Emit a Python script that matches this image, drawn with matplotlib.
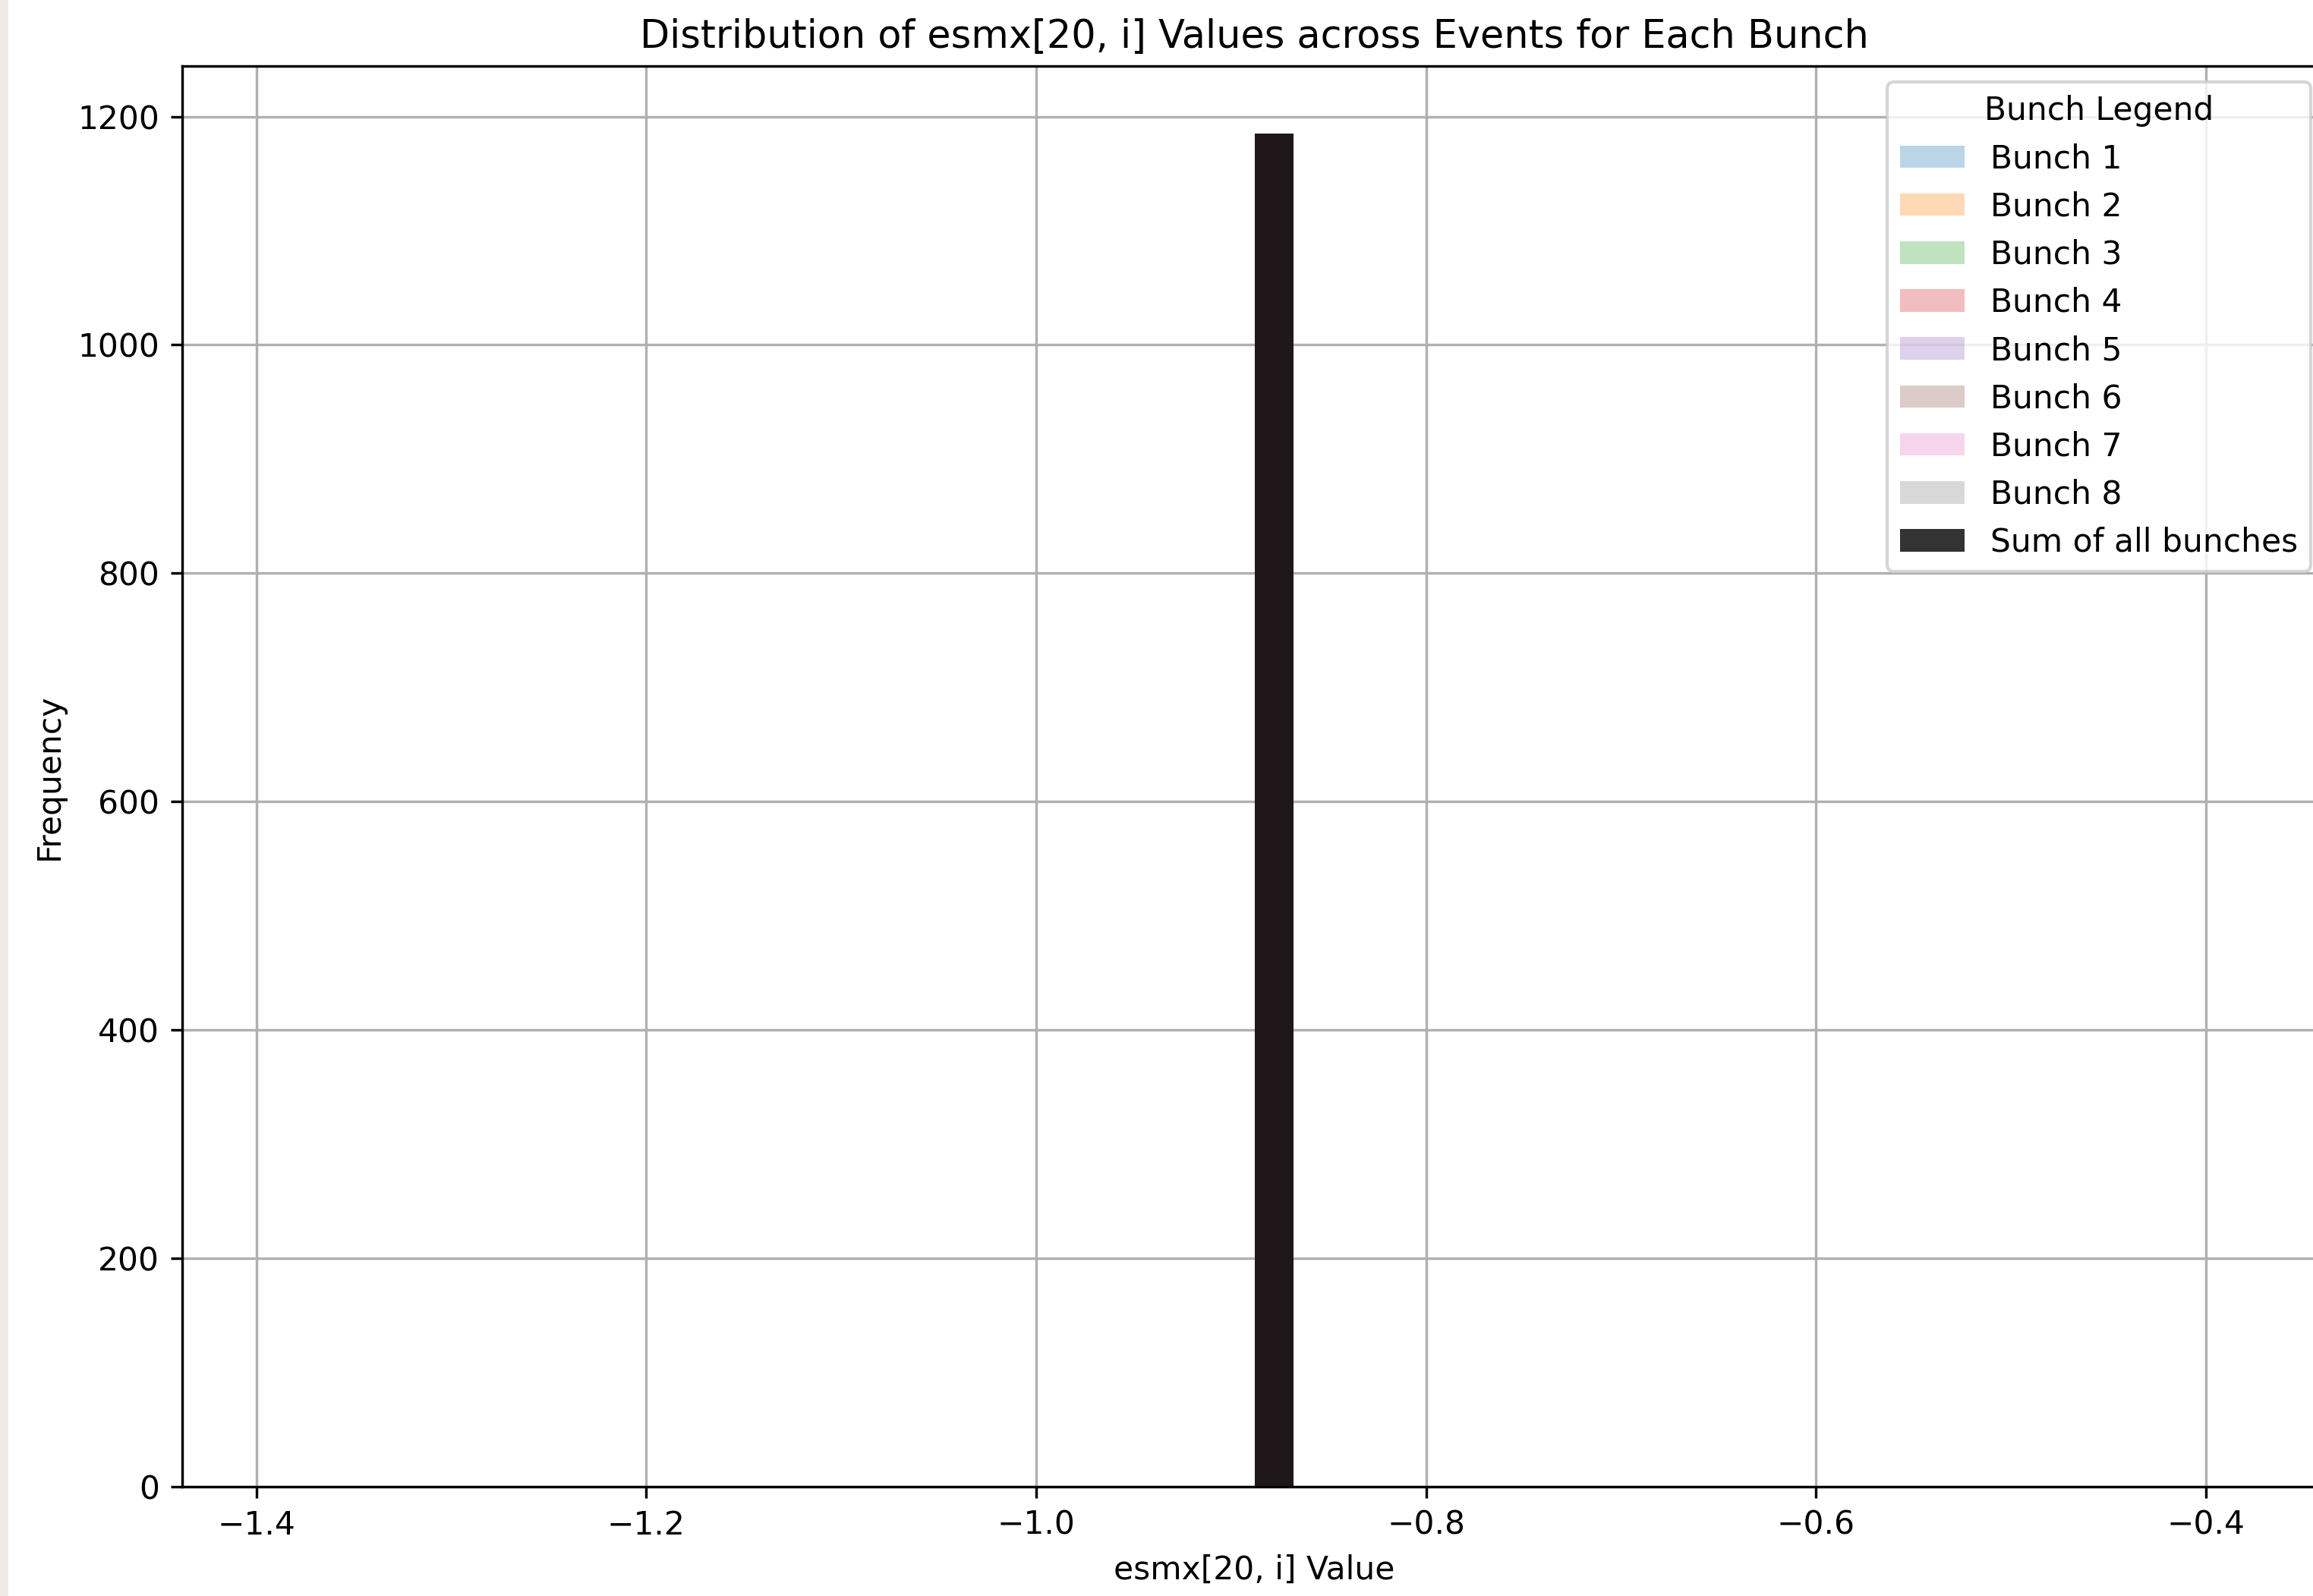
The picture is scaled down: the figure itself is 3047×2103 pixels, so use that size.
import numpy as np
import matplotlib
matplotlib.use("Agg")
import matplotlib.pyplot as plt
from matplotlib.patches import Rectangle

# every event falls in the same esmx[20, i] bin, so each histogram is one bar
esmx_value = -0.878
hist_range = (-1.388, -0.388)
n_bins = 50
bunch_labels = ["Bunch 1", "Bunch 2", "Bunch 3", "Bunch 4",
                "Bunch 5", "Bunch 6", "Bunch 7", "Bunch 8"]
bunch_counts = [1185, 1185, 1185, 1185, 1185, 1185, 1185, 1185]
sum_label = "Sum of all bunches"
sum_count = 1185

xticks = [-1.4, -1.2, -1.0, -0.8, -0.6, -0.4]
yticks = [0, 200, 400, 600, 800, 1000, 1200]


def main():
    dpi = 305
    W, H = 3047, 2103
    fig = plt.figure(figsize=(W / dpi, H / dpi), dpi=dpi)

    # screenshot strip on the far left
    fig.patches.append(Rectangle((0, 0), 11 / W, 1, transform=fig.transFigure,
                                 facecolor="#eeebe4", edgecolor="none", zorder=-1))

    ax = fig.add_axes([240 / W, (H - 1959) / H, (3065 - 240) / W, (1959 - 87) / H])

    cmap = plt.get_cmap("tab10")
    for i, (lab, cnt) in enumerate(zip(bunch_labels, bunch_counts)):
        ax.hist([esmx_value], bins=n_bins, range=hist_range, weights=[cnt],
                alpha=0.3, color=cmap(i), label=lab)
    ax.hist([esmx_value], bins=n_bins, range=hist_range, weights=[sum_count],
            alpha=0.8, color="black", label=sum_label)

    ax.set_xticks(xticks)
    ax.set_yticks(yticks)
    ax.grid(True)
    ax.set_axisbelow(True)

    ax.set_title("Distribution of esmx[20, i] Values across Events for Each Bunch")
    ax.set_xlabel("esmx[20, i] Value")
    ax.set_ylabel("Frequency")
    ax.legend(title="Bunch Legend", loc="upper right")

    fig.savefig("out.png", dpi=dpi)


if __name__ == "__main__":
    main()
